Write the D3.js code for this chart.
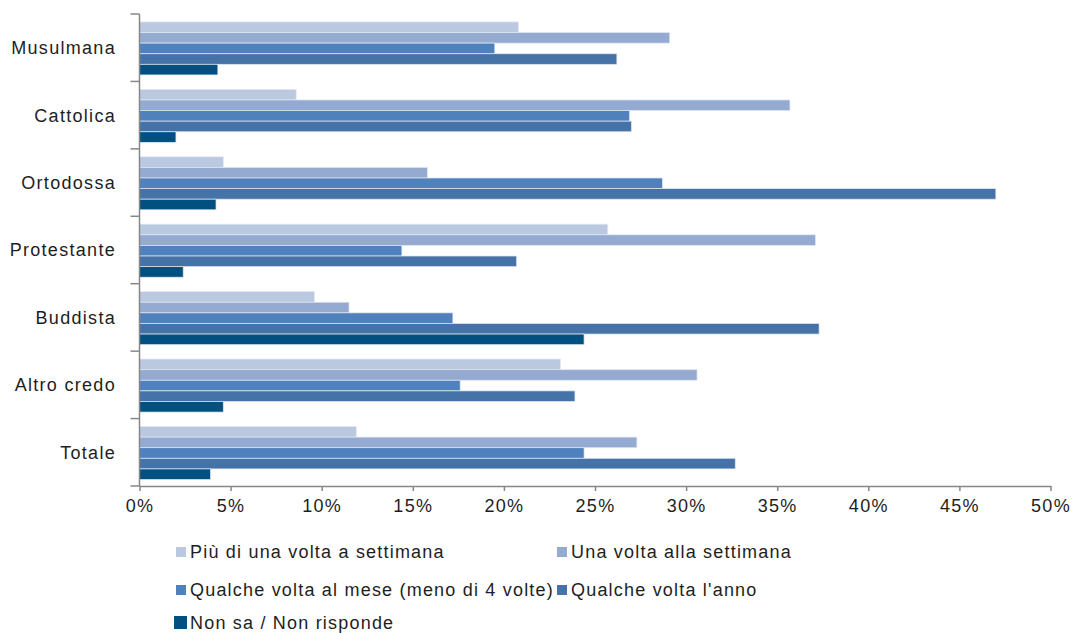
<!DOCTYPE html>
<html>
<head>
<meta charset="utf-8">
<script src="https://cdn.jsdelivr.net/npm/d3@7"></script>
<style>
  html, body { margin: 0; padding: 0; background: #fff; }
  svg { display: block; font-family: "Liberation Sans", Arial, sans-serif; }
</style>
</head>
<body>
<svg id="chart" width="1077" height="633"></svg>
<script>
// Religious confession groups (top to bottom)
const categories = ["Musulmana", "Cattolica", "Ortodossa", "Protestante", "Buddista", "Altro credo", "Totale"];

// Frequency series (percent of respondents)
const seriesNames = [
  "Più di una volta a settimana",
  "Una volta alla settimana",
  "Qualche volta al mese (meno di 4 volte)",
  "Qualche volta l'anno",
  "Non sa / Non risponde"
];
const piuVolteSettimana = [20.8, 8.6, 4.6, 25.7, 9.6, 23.1, 11.9];
const unaVoltaSettimana = [29.1, 35.7, 15.8, 37.1, 11.5, 30.6, 27.3];
const qualcheVoltaMese  = [19.5, 26.9, 28.7, 14.4, 17.2, 17.6, 24.4];
const qualcheVoltaAnno  = [26.2, 27.0, 47.0, 20.7, 37.3, 23.9, 32.7];
const nonSa             = [4.3, 2.0, 4.2, 2.4, 24.4, 4.6, 3.9];
const seriesValues = [piuVolteSettimana, unaVoltaSettimana, qualcheVoltaMese, qualcheVoltaAnno, nonSa];

const xTicks = [0, 5, 10, 15, 20, 25, 30, 35, 40, 45, 50];
const colors = ["#BAC8E0", "#95AAD1", "#4F81BD", "#4573A7", "#02507F"];

const svg = d3.select("#chart");
const axisColor = "#878787";
const textColor = "#1e1e1e";

const x = d3.scaleLinear().domain([0, 50]).range([139.5, 1050.5]);
const y = d3.scaleBand().domain(categories).range([14, 486]).paddingInner(0).paddingOuter(0);
const inner = d3.scaleBand().domain(d3.range(seriesNames.length))
  .range([0, y.bandwidth()]).paddingOuter(0.68).paddingInner(0).align(0.55);

// Bars
const groups = svg.append("g").selectAll("g")
  .data(categories)
  .join("g")
  .attr("transform", d => `translate(0,${y(d)})`);

groups.selectAll("rect")
  .data((d, i) => seriesValues.map((vals, s) => ({ s, v: vals[i] })))
  .join("rect")
  .attr("x", x(0))
  .attr("y", d => inner(d.s))
  .attr("width", d => x(d.v) - x(0))
  .attr("height", inner.bandwidth())
  .attr("fill", d => colors[d.s])
  .attr("stroke", "rgba(225,232,243,0.9)")
  .attr("stroke-width", 0.8);

// X axis
const xAxis = svg.append("g")
  .attr("transform", "translate(0,486)")
  .call(d3.axisBottom(x).tickValues(xTicks).tickFormat(d => d + "%").tickSize(5).tickSizeOuter(0));
xAxis.select(".domain").attr("stroke", axisColor).attr("stroke-width", 1.5);
xAxis.selectAll(".tick line").attr("stroke", axisColor).attr("stroke-width", 1.5);
xAxis.selectAll(".tick text")
  .attr("fill", textColor)
  .attr("font-size", 18)
  .attr("font-family", "Liberation Sans, Arial, sans-serif")
  .attr("letter-spacing", 1.3)
  .attr("dy", "0.98em");

// Y axis: line plus boundary ticks between categories
const yAxisG = svg.append("g");
yAxisG.append("line")
  .attr("x1", x(0)).attr("x2", x(0))
  .attr("y1", 14).attr("y2", 486)
  .attr("stroke", axisColor).attr("stroke-width", 1.5);
const boundaries = categories.map(c => y(c)).concat([y.range()[1]]);
yAxisG.selectAll("line.tk")
  .data(boundaries)
  .join("line")
  .attr("class", "tk")
  .attr("x1", x(0) - 9).attr("x2", x(0))
  .attr("y1", d => d).attr("y2", d => d)
  .attr("stroke", axisColor).attr("stroke-width", 1.5);
yAxisG.selectAll("text")
  .data(categories)
  .join("text")
  .attr("x", 116)
  .attr("y", d => y(d) + y.bandwidth() / 2)
  .attr("dy", "0.36em")
  .attr("text-anchor", "end")
  .attr("fill", textColor)
  .attr("font-size", 18)
  .attr("letter-spacing", 1.3)
  .text(d => d);

// Legend
const legendPos = [
  { x: 176, y: 552 },
  { x: 557, y: 552 },
  { x: 176, y: 590 },
  { x: 557, y: 590 },
  { x: 176, y: 623 }
];
const legend = svg.append("g").selectAll("g")
  .data(seriesNames)
  .join("g")
  .attr("transform", (d, i) => `translate(${legendPos[i].x},${legendPos[i].y})`);
legend.append("rect")
  .attr("x", (d, i) => i === 4 ? -2 : 0)
  .attr("y", (d, i) => i === 4 ? -7 : -5)
  .attr("width", (d, i) => i === 4 ? 13 : 10)
  .attr("height", (d, i) => i === 4 ? 13 : 10)
  .attr("fill", (d, i) => colors[i]);
legend.append("text")
  .attr("x", 14)
  .attr("dy", "0.36em")
  .attr("fill", textColor)
  .attr("font-size", 18)
  .attr("letter-spacing", 1.2)
  .text(d => d);
</script>
</body>
</html>
